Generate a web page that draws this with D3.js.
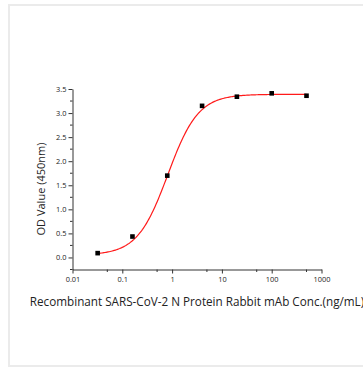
<!DOCTYPE html>
<html>
<head>
<meta charset="utf-8">
<script src="https://cdn.jsdelivr.net/npm/d3@7"></script>
<style>
  html, body { margin: 0; padding: 0; background: #fff; }
  svg { display: block; }
</style>
</head>
<body>
<svg id="chart" width="363" height="368"></svg>
<script>
// measured points (5-fold dilution)
const conc = [0.032, 0.16, 0.8, 4, 20, 100, 500];
const od = [0.09, 0.435, 1.70, 3.15, 3.34, 3.41, 3.36];

// 4PL fit parameters: bottom, top, EC50, hill slope
const fitBottom = 0.05;
const fitTop = 3.39;
const fitEC50 = 0.82;
const fitHill = 1.42;

const xTicks = [0.01, 0.1, 1, 10, 100, 1000];
const xMinorTicks = [0.05, 0.5, 5, 50, 500];
const yTicks = [0, 0.5, 1, 1.5, 2, 2.5, 3, 3.5];
const yMinorTicks = [-0.25, 0.25, 0.75, 1.25, 1.75, 2.25, 2.75, 3.25];

const xTitle = 'Recombinant SARS-CoV-2 N Protein Rabbit mAb Conc.(ng/mL)';
const yTitle = 'OD Value (450nm)';

const svg = d3.select('#chart');
const font = '"Open Sans", sans-serif';

// light frame
svg.append('rect')
  .attr('x', 9).attr('y', 5)
  .attr('width', 400).attr('height', 361)
  .attr('fill', 'none')
  .attr('stroke', '#ebebeb')
  .attr('stroke-width', 2);

const x = d3.scaleLog().domain([0.01, 1000]).range([72.5, 321.5]);
const y = d3.scaleLinear().domain([-0.25, 3.5]).range([269.5, 89]);

const axisColor = '#333';

// x axis
const gx = svg.append('g').attr('transform', `translate(0,${y(-0.25)})`);
gx.call(d3.axisBottom(x).tickValues(xTicks).tickSize(4).tickSizeOuter(0)
  .tickFormat(d3.format('~g')));
gx.selectAll('line.minor')
  .data(xMinorTicks)
  .enter()
  .append('line')
  .attr('class', 'minor')
  .attr('x1', d => x(d)).attr('x2', d => x(d))
  .attr('y1', 0).attr('y2', 2.5)
  .attr('stroke', axisColor);

// y axis
const gy = svg.append('g').attr('transform', `translate(${x(0.01)},0)`);
gy.call(d3.axisLeft(y).tickValues(yTicks).tickSize(4).tickSizeOuter(0)
  .tickFormat(d3.format('.1f')));
gy.selectAll('line.minor')
  .data(yMinorTicks)
  .enter()
  .append('line')
  .attr('class', 'minor')
  .attr('x1', 0).attr('x2', -2.5)
  .attr('y1', d => y(d)).attr('y2', d => y(d))
  .attr('stroke', axisColor);

[gx, gy].forEach(g => {
  g.select('.domain').attr('stroke', axisColor);
  g.selectAll('.tick line').attr('stroke', axisColor);
  g.selectAll('.tick text')
    .attr('fill', '#222')
    .style('font-family', font)
    .style('font-size', '7.4px');
});
gx.selectAll('.tick text').attr('dy', '0.9em').attr('y', 6);
gy.selectAll('.tick text').attr('x', -6);

// fitted curve
const fit = c => fitBottom + (fitTop - fitBottom) / (1 + Math.pow(fitEC50 / c, fitHill));
const curveX = d3.range(0, 201).map(i => {
  const lo = Math.log10(conc[0]);
  const hi = Math.log10(conc[conc.length - 1]);
  return Math.pow(10, lo + (hi - lo) * i / 200);
});
svg.append('path')
  .datum(curveX)
  .attr('d', d3.line().x(d => x(d)).y(d => y(fit(d))))
  .attr('fill', 'none')
  .attr('stroke', '#ff1a1a')
  .attr('stroke-width', 1.2);

// points
svg.selectAll('.pt')
  .data(conc.map((c, i) => [c, od[i]]))
  .enter()
  .append('rect')
  .attr('class', 'pt')
  .attr('x', d => x(d[0]) - 2.3)
  .attr('y', d => y(d[1]) - 2.3)
  .attr('width', 4.6).attr('height', 4.6)
  .attr('fill', '#000');

// titles
svg.append('text')
  .attr('x', (x(0.01) + x(1000)) / 2)
  .attr('y', 306)
  .attr('text-anchor', 'middle')
  .style('font-family', font)
  .style('font-size', '11.7px')
  .attr('fill', '#222')
  .text(xTitle);

svg.append('text')
  .attr('transform', 'translate(45,189) rotate(-90)')
  .attr('text-anchor', 'middle')
  .style('font-family', font)
  .style('font-size', '11px')
  .attr('fill', '#222')
  .text(yTitle);
</script>
</body>
</html>
